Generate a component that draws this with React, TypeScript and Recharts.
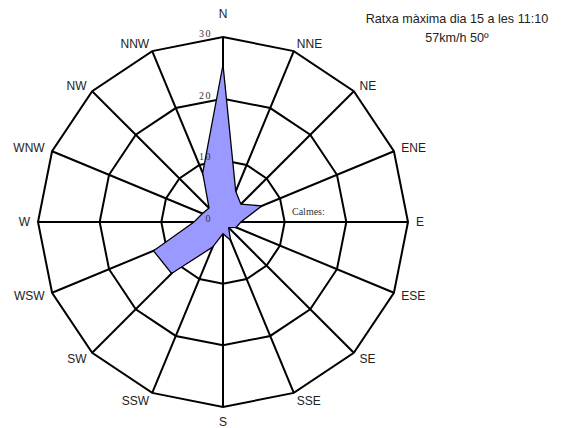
import { RadarChart, Radar, PolarGrid, PolarAngleAxis, PolarRadiusAxis } from "recharts";

// wind directions, clockwise from north
const directions = ["N", "NNE", "NE", "ENE", "E", "ESE", "SE", "SSE", "S", "SSW", "SW", "WSW", "W", "WNW", "NW", "NNW"];
// frequency per direction
const frequency = [25.5, 5.4, 4.1, 6.8, 2.9, 2.3, 1.3, 3.2, 1.9, 4.4, 11.8, 12.2, 4.7, 3.6, 3.2, 8.6];
const radiusTicks = [0, 10, 20, 30];

const gustTitle = "Ratxa màxima dia 15 a les 11:10";
const gustValue = "57km/h 50º";
const calmLabel = "Calmes:";

const data = directions.map((d, i) => ({ dir: d, value: frequency[i] }));

const CX = 223;
const CY = 222;
const R = 185;

const AngleTick = (props: any) => {
    const { payload, index } = props;
    const deg = payload && typeof payload.coordinate === "number" ? payload.coordinate : 90 - index * 22.5;
    const rad = (deg * Math.PI) / 180;
    const dx = Math.cos(rad);
    const dy = -Math.sin(rad);
    let x = CX + dx * (R + 8);
    let y = CY + dy * (R + 8);
    let anchor = "middle";
    if (dx > 0.1) anchor = "start";
    else if (dx < -0.1) anchor = "end";
    else y += dy < 0 ? -15 : 7;
    return (
        <text x={x} y={y} dy="0.35em" textAnchor={anchor} fontFamily="Liberation Sans, Arial" fontSize={12} fill="#222">
            {payload.value}
        </text>
    );
};

const RadiusTick = (props: any) => {
    const { x, y, payload } = props;
    return (
        <text x={x - 11} y={y} textAnchor="end" fontFamily="Liberation Serif, Times" fontSize={10} letterSpacing={1.5} fill="#333">
            {payload.value}
        </text>
    );
};

export default function App() {
    return (
        <div style={{ position: "absolute", left: 0, top: 0, width: 562, height: 428, background: "#fff" }}>
            <RadarChart width={562} height={428} data={data} cx={CX} cy={CY} outerRadius={R} margin={{ top: 0, right: 0, bottom: 0, left: 0 }}>
                <PolarAngleAxis dataKey="dir" tick={AngleTick} tickLine={false} axisLine={false} />
                <PolarRadiusAxis angle={90} domain={[0, 30]} ticks={radiusTicks} tickCount={4} axisLine={false} tick={RadiusTick} />
                <Radar dataKey="value" fill="#9999ff" fillOpacity={1} stroke="#000" strokeWidth={1.3} dot={false} isAnimationActive={false} />
                <PolarGrid gridType="polygon" stroke="#000" strokeWidth={2} strokeOpacity={1} />
            </RadarChart>
            <div style={{ position: "absolute", left: 352, top: 10, width: 210, textAlign: "center", fontFamily: "Liberation Sans, Arial", fontSize: 12.6, lineHeight: "19px", color: "#222" }}>
                <div>{gustTitle}</div>
                <div>{gustValue}</div>
            </div>
            <div style={{ position: "absolute", left: 292, top: 206, fontFamily: "Liberation Serif, Times", fontSize: 10, color: "#333" }}>{calmLabel}</div>
        </div>
    );
}
